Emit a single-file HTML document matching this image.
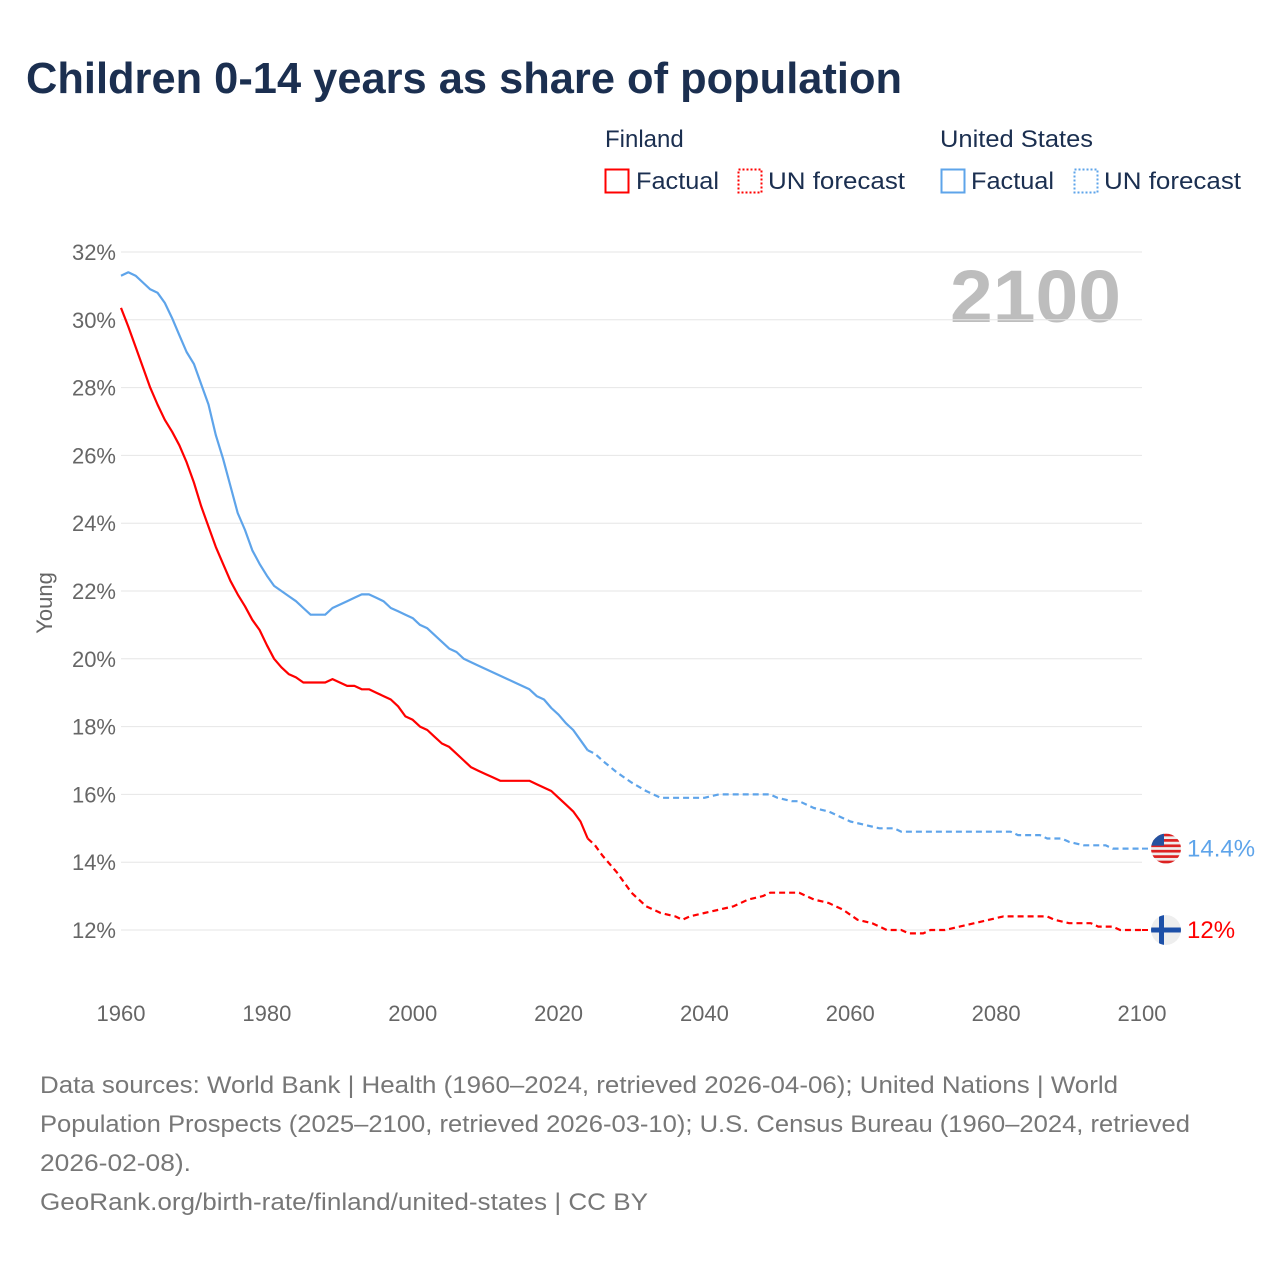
<!DOCTYPE html>
<html><head><meta charset="utf-8"><style>
body{margin:0;background:#fff;font-family:"Liberation Sans",sans-serif;}
#wrap{position:relative;width:1280px;height:1280px;overflow:hidden;}
</style></head><body>
<div id="wrap">
<svg id="svg" width="1280" height="1280" style="position:absolute;left:0;top:0">
<defs><clipPath id="cu"><circle cx="1166" cy="847" r="15"/></clipPath><clipPath id="cf"><circle cx="1166" cy="930" r="15"/></clipPath></defs>
<text x="26" y="93" font-size="44" font-weight="bold" fill="#1b2f50" textLength="876" lengthAdjust="spacingAndGlyphs">Children 0-14 years as share of population</text>
<g font-size="24" fill="#1b2f50">
<text x="605" y="147">Finland</text>
<rect x="605.5" y="169.5" width="23" height="23" fill="none" stroke="#f00" stroke-width="2"/>
<text x="636" y="189" textLength="83" lengthAdjust="spacingAndGlyphs">Factual</text>
<rect x="738.5" y="169.5" width="23" height="23" fill="none" stroke="#f00" stroke-width="2" stroke-dasharray="2,2"/>
<text x="768" y="189" textLength="137" lengthAdjust="spacingAndGlyphs">UN forecast</text>
<text x="940" y="147" textLength="153" lengthAdjust="spacingAndGlyphs">United States</text>
<rect x="941.5" y="169.5" width="23" height="23" fill="none" stroke="#5ea4ea" stroke-width="2"/>
<text x="971" y="189" textLength="83" lengthAdjust="spacingAndGlyphs">Factual</text>
<rect x="1074.5" y="169.5" width="23" height="23" fill="none" stroke="#5ea4ea" stroke-width="2" stroke-dasharray="2,2"/>
<text x="1104" y="189" textLength="137" lengthAdjust="spacingAndGlyphs">UN forecast</text>
</g>
<text x="1121" y="322" font-size="74" font-weight="bold" fill="#bdbdbd" text-anchor="end" textLength="171" lengthAdjust="spacingAndGlyphs">2100</text>
<text transform="translate(52,603) rotate(-90)" font-size="22" fill="#666" text-anchor="middle">Young</text>
<g id="grid"></g><g id="marks"></g>
<g font-size="24" fill="#777">
<text x="40" y="1093" textLength="1078" lengthAdjust="spacingAndGlyphs">Data sources: World Bank | Health (1960–2024, retrieved 2026-04-06); United Nations | World</text>
<text x="40" y="1132" textLength="1150" lengthAdjust="spacingAndGlyphs">Population Prospects (2025–2100, retrieved 2026-03-10); U.S. Census Bureau (1960–2024, retrieved</text>
<text x="40" y="1171" textLength="151" lengthAdjust="spacingAndGlyphs">2026-02-08).</text>
<text x="40" y="1210" textLength="608" lengthAdjust="spacingAndGlyphs">GeoRank.org/birth-rate/finland/united-states | CC BY</text>
</g>
</svg></div>
<script>
const usYears=[1960,1961,1962,1963,1964,1965,1966,1967,1968,1969,1970,1971,1972,1973,1974,1975,1976,1977,1978,1979,1980,1981,1982,1983,1984,1985,1986,1987,1988,1989,1990,1991,1992,1993,1994,1995,1996,1997,1998,1999,2000,2001,2002,2003,2004,2005,2006,2007,2008,2009,2010,2011,2012,2013,2014,2015,2016,2017,2018,2019,2020,2021,2022,2023,2024];
const usValues=[31.3,31.4,31.3,31.1,30.9,30.8,30.5,30.05,29.55,29.05,28.7,28.1,27.5,26.6,25.9,25.1,24.3,23.8,23.2,22.8,22.45,22.15,22.0,21.85,21.7,21.5,21.3,21.3,21.3,21.5,21.6,21.7,21.8,21.9,21.9,21.8,21.7,21.5,21.4,21.3,21.2,21.0,20.9,20.7,20.5,20.3,20.2,20.0,19.9,19.8,19.7,19.6,19.5,19.4,19.3,19.2,19.1,18.9,18.8,18.55,18.35,18.1,17.9,17.6,17.3];
const usFcYears=[2024,2025,2026,2028,2030,2032,2034,2040,2042,2049,2050,2052,2053,2055,2057,2060,2062,2064,2066,2067,2082,2083,2086,2087,2089,2090,2092,2095,2096,2100];
const usFcValues=[17.3,17.2,17.0,16.65,16.35,16.1,15.9,15.9,16.0,16.0,15.9,15.8,15.8,15.6,15.5,15.2,15.1,15.0,15.0,14.9,14.9,14.8,14.8,14.7,14.7,14.6,14.5,14.5,14.4,14.4];
const fiYears=usYears;
const fiValues=[30.35,29.8,29.2,28.6,28.0,27.5,27.05,26.7,26.3,25.8,25.2,24.5,23.9,23.3,22.8,22.3,21.9,21.55,21.15,20.85,20.4,20.0,19.75,19.55,19.45,19.3,19.3,19.3,19.3,19.4,19.3,19.2,19.2,19.1,19.1,19.0,18.9,18.8,18.6,18.3,18.2,18.0,17.9,17.7,17.5,17.4,17.2,17.0,16.8,16.7,16.6,16.5,16.4,16.4,16.4,16.4,16.4,16.3,16.2,16.1,15.9,15.7,15.5,15.2,14.7];
const fiFcYears=[2024,2025,2026,2028,2030,2032,2034,2036,2037,2038,2040,2042,2044,2046,2048,2049,2053,2055,2057,2059,2061,2063,2065,2067,2068,2070,2071,2073,2075,2077,2079,2081,2087,2088,2090,2093,2094,2096,2097,2100];
const fiFcValues=[14.7,14.5,14.2,13.7,13.1,12.7,12.5,12.4,12.3,12.4,12.5,12.6,12.7,12.9,13.0,13.1,13.1,12.9,12.8,12.6,12.3,12.2,12.0,12.0,11.9,11.9,12.0,12.0,12.1,12.2,12.3,12.4,12.4,12.3,12.2,12.2,12.1,12.1,12.0,12.0];
const yTicks=[12,14,16,18,20,22,24,26,28,30,32];
const xTicks=[1960,1980,2000,2020,2040,2060,2080,2100];
const X=y=>121+(y-1960)*(1021/140);
const Y=v=>252+(32-v)*33.9;
const NS="http://www.w3.org/2000/svg";
const grid=document.getElementById('grid'),marks=document.getElementById('marks');
function mk(t,a,p){const e=document.createElementNS(NS,t);for(const k in a)e.setAttribute(k,a[k]);p.appendChild(e);return e;}
yTicks.forEach(v=>{
 const l=mk('line',{x1:121,x2:1142,y1:Y(v),y2:Y(v),stroke:'#e6e6e6','stroke-width':1},grid);
 
 
 const t=mk('text',{x:116,y:Y(v)+8,'font-size':22,fill:'#666','text-anchor':'end'},grid);t.textContent=v+'%';
 
 
});
xTicks.forEach(y=>{
 const t=mk('text',{x:X(y),y:1021,'font-size':22,fill:'#666','text-anchor':'middle'},grid);t.textContent=y;
 
 
});
function line(ys,vs,col,dash,name){
 const d=ys.map((y,i)=>(i?'L':'M')+X(y).toFixed(1)+','+Y(vs[i]).toFixed(1)).join('');
 const p=mk('path',{d:d,fill:'none',stroke:col,'stroke-width':2.2,'stroke-linejoin':'round'},marks);
 if(dash)p.setAttribute('stroke-dasharray','6,4');
 
 
}
line(usYears,usValues,'#5ea4ea',false,'us-factual-line');
line(usFcYears,usFcValues,'#5ea4ea',true,'us-forecast-line');
line(fiYears,fiValues,'#f00',false,'finland-factual-line');
line(fiFcYears,fiFcValues,'#f00',true,'finland-forecast-line');
const usEnd=usFcValues[usFcValues.length-1],fiEnd=fiFcValues[fiFcValues.length-1];
const fx=1166;
mk('line',{x1:1142,x2:fx,y1:Y(usEnd),y2:Y(usEnd),stroke:'#5ea4ea','stroke-width':2,'stroke-dasharray':'6,4'},marks);
mk('line',{x1:1142,x2:fx,y1:Y(fiEnd),y2:Y(fiEnd),stroke:'#f00','stroke-width':2,'stroke-dasharray':'6,4'},marks);
const uy=Y(usEnd),fy=Y(fiEnd);
document.querySelector('#cu circle').setAttribute('cy',uy);
document.querySelector('#cf circle').setAttribute('cy',fy);
const us=mk('g',{'clip-path':'url(#cu)'},marks);


mk('circle',{cx:fx,cy:uy,r:15,fill:'#eee'},us);
for(let i=0;i<6;i++)mk('rect',{x:fx-15,y:uy-15+i*5.4,width:30,height:2.7,fill:'#d22'},us);
mk('rect',{x:fx-15,y:uy-15,width:13,height:12,fill:'#2552a0'},us);
const fi=mk('g',{'clip-path':'url(#cf)'},marks);


mk('circle',{cx:fx,cy:fy,r:15,fill:'#eee'},fi);
mk('rect',{x:fx-15,y:fy-2.5,width:30,height:5,fill:'#1d50a8'},fi);
mk('rect',{x:fx-7,y:fy-15,width:5,height:30,fill:'#1d50a8'},fi);
const lu=mk('text',{x:1187,y:uy+8,'font-size':24,fill:'#5ea4ea'},marks);lu.textContent=usEnd+'%';


const lf=mk('text',{x:1187,y:fy+8,'font-size':24,fill:'#f00'},marks);lf.textContent=fiEnd+'%';


</script>
</body></html>
